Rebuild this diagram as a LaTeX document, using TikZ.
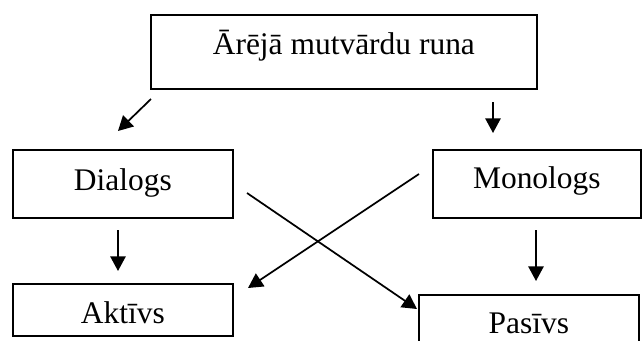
\documentclass[tikz,border=0pt]{standalone}
\usepackage{fontspec}
\setmainfont{Liberation Serif}
\usetikzlibrary{arrows.meta}
\begin{document}
\begin{tikzpicture}[x=0.75pt,y=-0.75pt,
  box/.style={draw, line width=1.3pt, inner sep=0pt, anchor=north west,
    font=\fontsize{23.6}{28}\selectfont},
  arr/.style={line width=1.3pt, -{Triangle[length=11pt,width=11.5pt]}}]
\useasboundingbox (0,0) rectangle (643,340);
\node[box, minimum width=289.5pt, text height=30pt, text depth=25.5pt] (top) at (150,14) {Ārējā mutvārdu runa};
\node[box, minimum width=165pt, text height=30.75pt, text depth=20.25pt] (dia) at (12,149) {Dialogs};
\node[box, minimum width=156pt, text height=29.25pt, text depth=21.75pt] (mono) at (432,149) {Monologs};
\node[box, minimum width=165pt, text height=30pt, text depth=9pt] (akt) at (12,283) {Aktīvs};
\node[box, minimum width=165pt, text height=29.25pt, text depth=8pt] (pas) at (418,294) {Pasīvs};
% arrow end points
\coordinate (a1s) at (151,99);  \coordinate (a1e) at (118,131);
\coordinate (a2s) at (493,102); \coordinate (a2e) at (493,133);
\coordinate (a3s) at (118,230); \coordinate (a3e) at (118,271);
\coordinate (a4s) at (536,230); \coordinate (a4e) at (536,281);
\coordinate (a5s) at (247,193); \coordinate (a5e) at (417,309);
\coordinate (a6s) at (419,174); \coordinate (a6e) at (248,288);
\draw[arr] (a1s) -- (a1e);
\draw[arr] (a2s) -- (a2e);
\draw[arr] (a3s) -- (a3e);
\draw[arr] (a4s) -- (a4e);
\draw[arr] (a5s) -- (a5e);
\draw[arr] (a6s) -- (a6e);
\end{tikzpicture}
\end{document}
